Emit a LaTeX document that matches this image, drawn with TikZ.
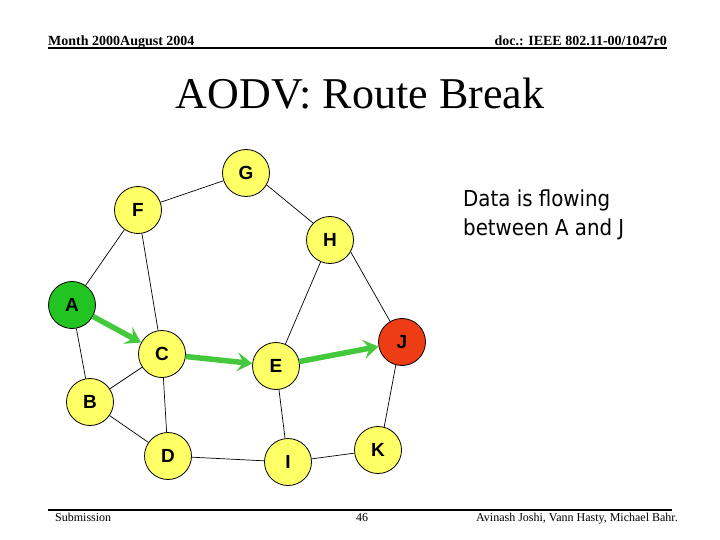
\documentclass[tikz,border=0pt]{standalone}
\usepackage{fontspec}
\setmainfont{Liberation Serif}
\newfontfamily\nodefont{Liberation Sans}
\newfontfamily\notefont[FakeStretch=0.9]{DejaVu Sans}
\usetikzlibrary{arrows.meta}
\definecolor{nodeyellow}{RGB}{255,255,102}
\definecolor{srcgreen}{RGB}{34,196,34}
\definecolor{dstred}{RGB}{238,60,20}
\definecolor{flowgreen}{RGB}{68,200,60}
\begin{document}
\begin{tikzpicture}[x=1pt,y=-1pt,
  station/.style={circle, draw=black, line width=0.8pt, minimum size=47pt, inner sep=0pt,
    fill=nodeyellow, font=\nodefont\bfseries\fontsize{19}{19}\selectfont},
  link/.style={draw=black, line width=0.7pt},
  flow/.style={draw=flowgreen, line width=5.5pt, -{Stealth[length=15pt,width=19pt,inset=6pt]}},
  hdr/.style={font=\bfseries\fontsize{14}{14}\selectfont},
  ftr/.style={font=\fontsize{12}{12}\selectfont}]
\useasboundingbox (0,0) rectangle (720,540);
% header / footer
\node[hdr, anchor=base west, inner sep=0pt] (hl) at (48,45.5) {Month 2000August 2004};
\node[hdr, anchor=base east, inner sep=0pt] (hr) at (667,45.5) {doc.: IEEE 802.11-00/1047r0};
\coordinate (hl0) at (48,48.5);
\coordinate (hl1) at (667,48.5);
\draw[line width=2pt] (hl0) -- (hl1);
\node[anchor=base, inner sep=0pt, font=\fontsize{44}{44}\selectfont] (title) at (360,109) {AODV: Route Break};
\coordinate (fl0) at (48,510);
\coordinate (fl1) at (672,510);
\draw[line width=2pt] (fl0) -- (fl1);
\node[ftr, anchor=base west, inner sep=0pt] (sub) at (55,521) {Submission};
\node[ftr, anchor=base, inner sep=0pt] (page) at (362,521) {46};
\node[ftr, anchor=base east, inner sep=0pt] (auth) at (678,521) {Avinash Joshi, Vann Hasty, Michael Bahr.};
% note
\node[anchor=base west, inner sep=0pt, align=left, font=\notefont\fontsize{22}{29}\selectfont] (note) at (463,236) {Data is flowing\\between A and J};
% nodes
\node[station] (G) at (246,173) {G};
\node[station] (F) at (138,210) {F};
\node[station] (H) at (330,240) {H};
\node[station, fill=srcgreen] (A) at (72,305) {A};
\node[station] (C) at (162,354) {C};
\node[station] (E) at (276,366) {E};
\node[station, fill=dstred] (J) at (402,342) {J};
\node[station] (B) at (90,402) {B};
\node[station] (D) at (168,456) {D};
\node[station] (I) at (288,462) {I};
\node[station] (K) at (378,450) {K};
% links
\draw[link] (F) -- (G);
\draw[link] (G.-30) -- (H.135);
\draw[link] (F) -- (A);
\draw[link] (F) -- (C);
\draw[link] (H) -- (E);
\draw[link] (H.-30) -- (J.120);
\draw[link] (A) -- (B);
\draw[link] (B) -- (C);
\draw[link] (C) -- (D);
\draw[link] (B) -- (D);
\draw[link] (E) -- (I);
\draw[link] (D) -- (I);
\draw[link] (I) -- (K);
\draw[link] (J.-105) -- (K.75);
% data flow
\draw[flow] (A) -- (C);
\draw[flow] (C) -- (E);
\draw[flow] (E) -- (J);
\end{tikzpicture}
\end{document}
